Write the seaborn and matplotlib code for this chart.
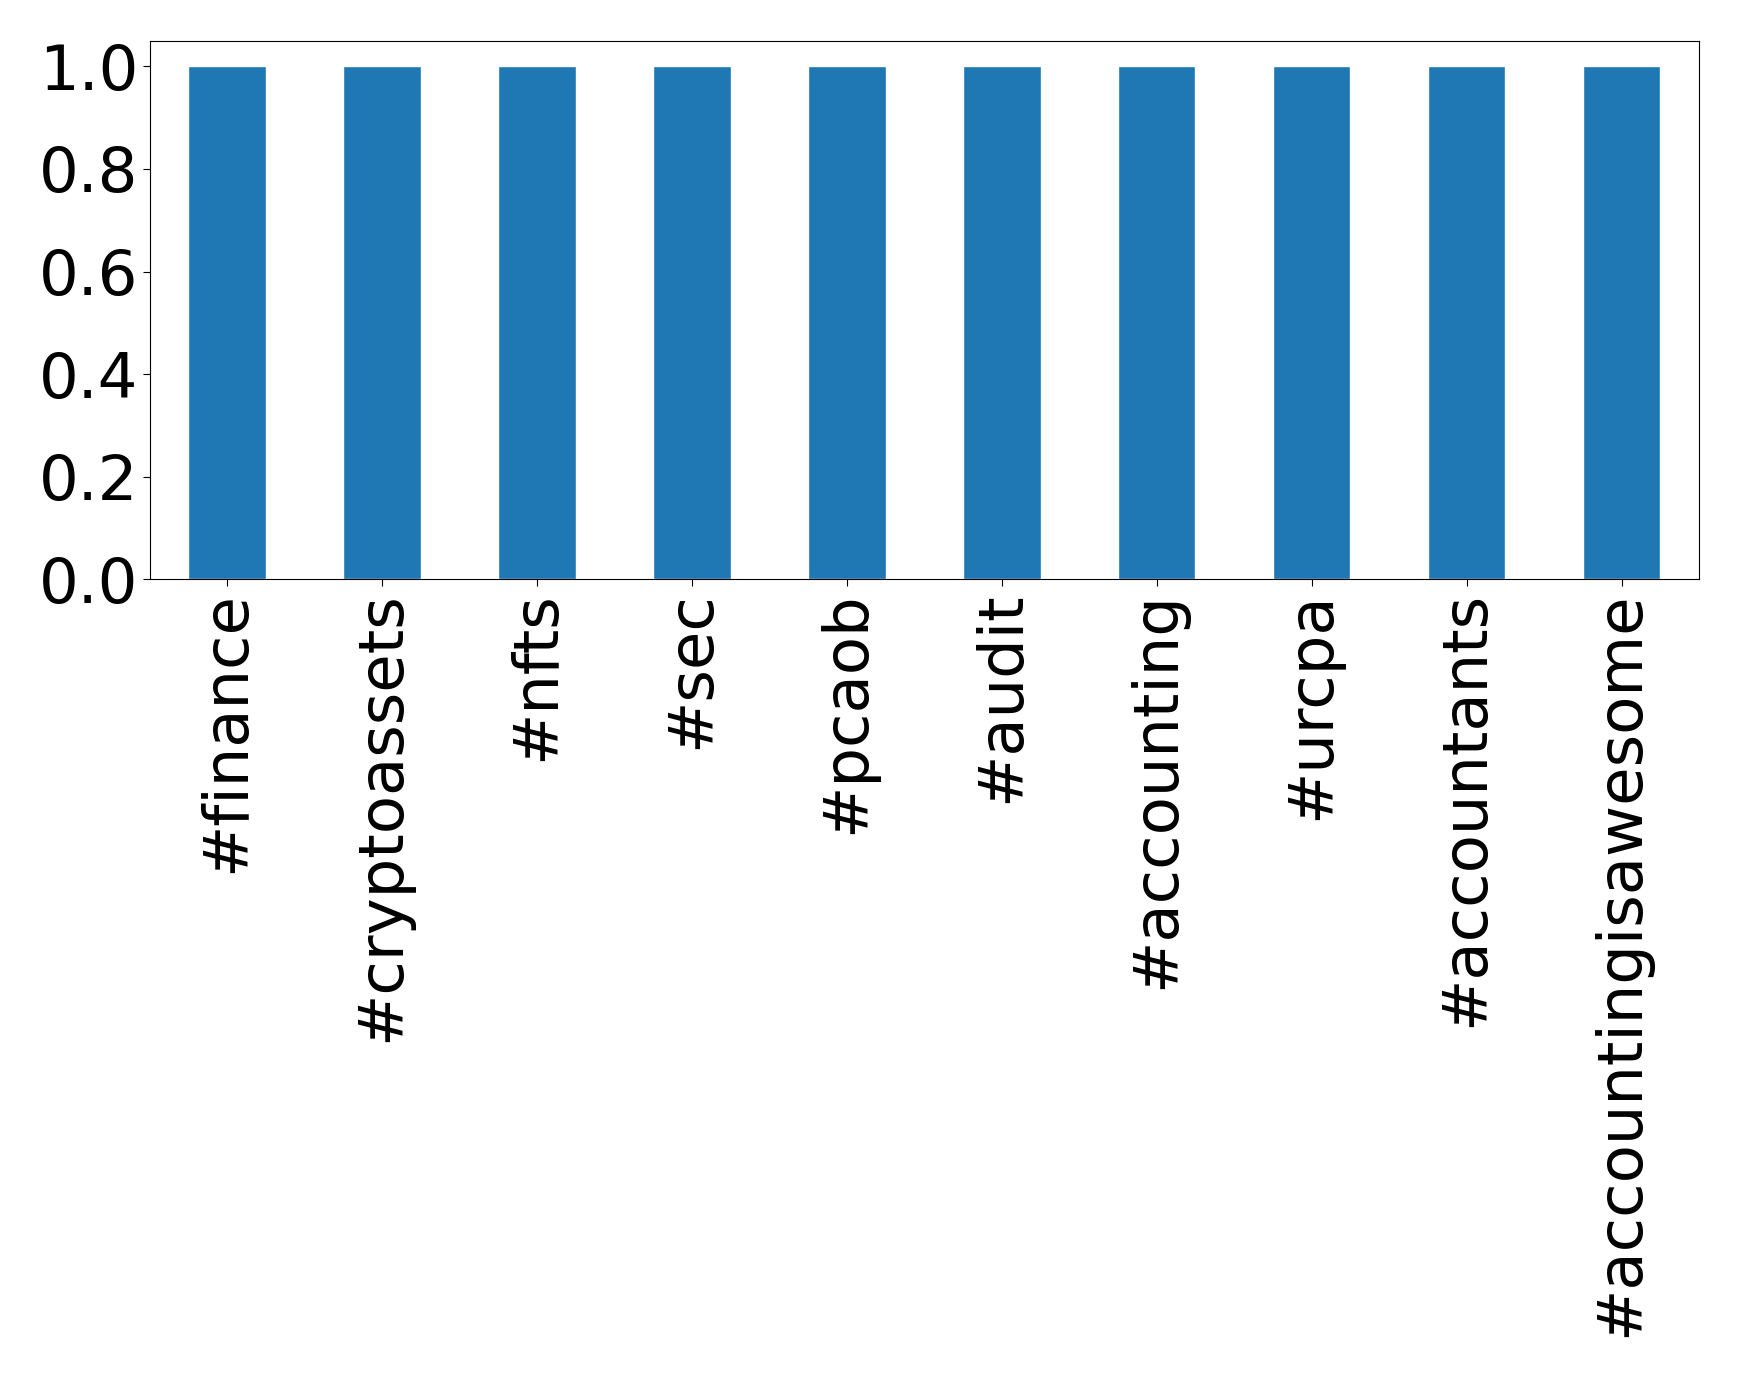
import matplotlib
matplotlib.use("Agg")
import matplotlib.pyplot as plt
import seaborn as sns
import pandas as pd

# hashtags and their share values
hashtags = ["#finance", "#cryptoassets", "#nfts", "#sec", "#pcaob", "#audit",
            "#accounting", "#urcpa", "#accountants", "#accountingisawesome"]
values = [1.0, 1.0, 1.0, 1.0, 1.0, 1.0, 1.0, 1.0, 1.0, 1.0]

df = pd.DataFrame({"hashtag": hashtags, "value": values})

sns.set_style("ticks")
plt.rcParams['font.family'] = ['DejaVu Sans']
plt.rcParams['text.color'] = 'black'
plt.rcParams['xtick.color'] = 'black'
plt.rcParams['ytick.color'] = 'black'
plt.rcParams['axes.edgecolor'] = 'black'

fig, ax = plt.subplots(figsize=(17.39, 13.74), dpi=100)
fig.subplots_adjust(left=0.0861, right=0.977, top=0.9704, bottom=0.5784)

sns.barplot(data=df, x="hashtag", y="value", color="#1f77b4", width=0.5,
            saturation=1, ax=ax)
ax.set_xlim(-0.5, len(hashtags) - 0.5)
ax.set_ylim(0, 1.05)
ax.set_xlabel("")
ax.set_ylabel("")
ax.set_yticks([0.0, 0.2, 0.4, 0.6, 0.8, 1.0])
ax.set_yticklabels(["0.0", "0.2", "0.4", "0.6", "0.8", "1.0"])
ax.tick_params(axis="both", labelsize=45, length=4.9, width=0.8,
               colors="black", labelcolor="black")
plt.setp(ax.get_xticklabels(), rotation=90)
for s in ax.spines.values():
    s.set_visible(True)
    s.set_linewidth(0.8)
    s.set_color("black")

plt.savefig("out.png", dpi=100)
plt.close()
